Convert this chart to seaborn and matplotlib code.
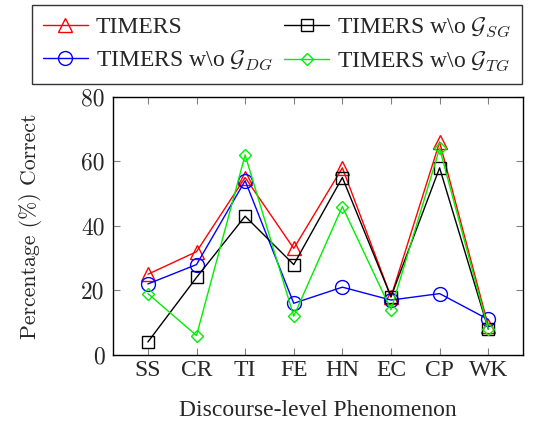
import matplotlib
matplotlib.use("Agg")
import matplotlib.pyplot as plt
import seaborn as sns

# Data
phenomena = ["SS", "CR", "TI", "FE", "HN", "EC", "CP", "WK"]
timers = [25, 32, 55, 33, 58, 18, 66, 9]
timers_no_sg = [4, 24, 43, 28, 55, 18, 58, 8]
timers_no_dg = [22, 28, 54, 16, 21, 17, 19, 11]
timers_no_tg = [19, 6, 62, 12, 46, 14, 64, 8]
y_ticks = [0, 20, 40, 60, 80]

sns.set_style("ticks")
plt.rcParams["font.family"] = ["Liberation Serif", "DejaVu Serif"]
plt.rcParams["mathtext.fontset"] = "cm"

fig = plt.figure(figsize=(5.35, 4.25), dpi=100)
ax = fig.add_axes([0.211, 0.165, 0.767, 0.607])

x = list(range(len(phenomena)))
series = [
    ("TIMERS", timers, "red", "^", 10),
    (r"TIMERS w\o $\mathcal{G}_{DG}$", timers_no_dg, "blue", "o", 10),
    (r"TIMERS w\o $\mathcal{G}_{SG}$", timers_no_sg, "black", "s", 9),
    (r"TIMERS w\o $\mathcal{G}_{TG}$", timers_no_tg, "#00ee00", "D", 6.5),
]
for label, vals, color, marker, ms in series:
    sns.lineplot(x=x, y=vals, ax=ax, color=color, marker=marker, markersize=ms,
                 markerfacecolor="none", markeredgecolor=color,
                 markeredgewidth=1.0, linewidth=1.0, label=label)

ax.set_xlim(-0.72, 7.72)
ax.set_ylim(0, 80)
ax.set_xticks(x)
ax.set_xticklabels(phenomena)
ax.set_yticks(y_ticks)
ax.set_yticklabels([str(v) for v in y_ticks], fontfamily="cmr10")
ax.tick_params(direction="in", top=True, right=True, color="gray",
               length=5, labelsize=17)
ax.tick_params(axis="y", pad=6)
for s in ax.spines.values():
    s.set_color("black")
    s.set_linewidth(1.0)

ax.set_ylabel("Percentage (%) Correct", fontsize=15.7, fontfamily="cmr10", labelpad=28)
ax.set_xlabel("Discourse-level Phenomenon", fontsize=17, labelpad=14)

handles, labels = ax.get_legend_handles_labels()
ax.get_legend().remove()
fig.legend(handles, labels,
           ncol=2, loc="upper left", bbox_to_anchor=(0.06, 0.81, 0.915, 0.178),
           mode="expand", borderaxespad=0, fontsize=17, frameon=True,
           fancybox=False, edgecolor="black", handlelength=1.9,
           handletextpad=0.35, columnspacing=0.2, borderpad=0.45,
           labelspacing=0.45)

fig.savefig("out.png", dpi=100)
